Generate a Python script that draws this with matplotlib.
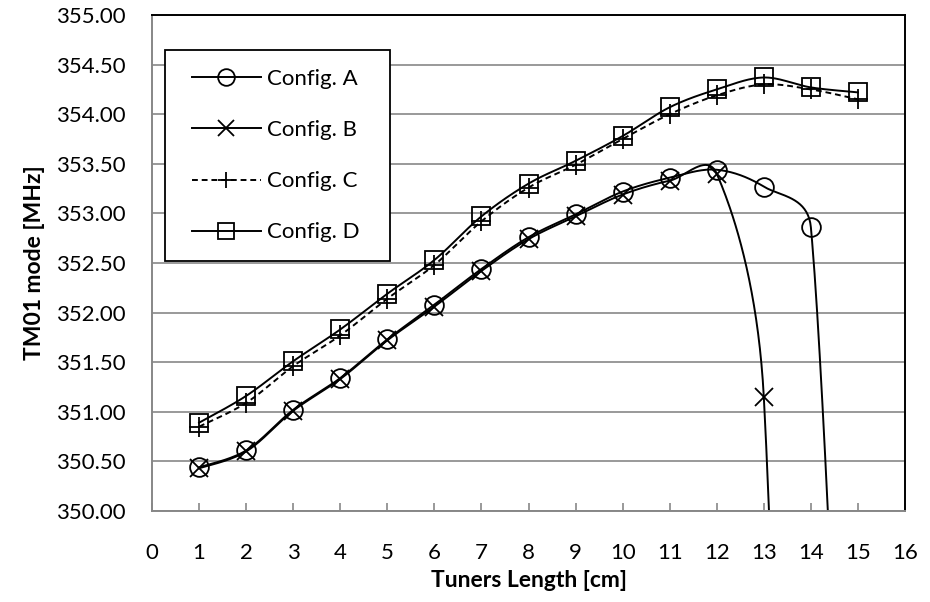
import numpy as np
import matplotlib
matplotlib.use("Agg")
import matplotlib.pyplot as plt
from matplotlib.legend_handler import HandlerLine2D

# tuner length [cm]
length_ad = [1, 2, 3, 4, 5, 6, 7, 8, 9, 10, 11, 12, 13, 14, 15]
length_b = [1, 2, 3, 4, 5, 6, 7, 8, 9, 10, 11, 12, 13, 14]

# TM01 frequency [MHz]; the last points of A and B lie far below the axis
config_a = [350.44, 350.61, 351.02, 351.34, 351.73, 352.08, 352.44, 352.76,
            352.99, 353.22, 353.36, 353.44, 353.27, 352.86, 343.0]
config_b = [350.43, 350.60, 351.01, 351.33, 351.72, 352.06, 352.42, 352.74,
            352.97, 353.19, 353.33, 353.40, 351.15, 335.6]
config_c = [350.85, 351.09, 351.46, 351.77, 352.14, 352.48, 352.92, 353.26,
            353.49, 353.75, 354.00, 354.19, 354.30, 354.25, 354.15]
config_d = [350.89, 351.16, 351.51, 351.83, 352.19, 352.53, 352.97, 353.30,
            353.53, 353.78, 354.07, 354.25, 354.37, 354.27, 354.22]

FONT = "Lato"
N_SEG = 40


def smooth(xs, ys, sx=47.2, sy=99.2, n=N_SEG):
    # Excel-like smoothed line: cubic bezier, tangent = neighbour diff / 6,
    # limited to half the segment length (done in pixel-like units)
    p = np.column_stack([np.asarray(xs, float) * sx, np.asarray(ys, float) * sy])
    out = []
    for i in range(len(p) - 1):
        p0 = p[i - 1] if i > 0 else p[i]
        p1, p2 = p[i], p[i + 1]
        p3 = p[i + 2] if i + 2 < len(p) else p[i + 1]
        half = np.linalg.norm(p2 - p1) / 2
        v1 = (p2 - p0) / 6
        v2 = (p3 - p1) / 6
        if np.linalg.norm(v1) > half:
            v1 = v1 * half / np.linalg.norm(v1)
        if np.linalg.norm(v2) > half:
            v2 = v2 * half / np.linalg.norm(v2)
        c1, c2 = p1 + v1, p2 - v2
        t = np.linspace(0, 1, n + 1)[:-1][:, None]
        seg = ((1 - t) ** 3) * p1 + 3 * t * (1 - t) ** 2 * c1 + 3 * t ** 2 * (1 - t) * c2 + t ** 3 * p2
        out.append(seg)
    out.append(p[-1:])
    out = np.vstack(out)
    return out[:, 0] / sx, out[:, 1] / sy


fig = plt.figure(figsize=(9.3, 6.02), dpi=100)
ax = fig.add_axes([152 / 930, 91 / 602, 753 / 930, 496 / 602])

series = [
    (length_ad, config_a, "o", 13.5, "-", "Config. A"),
    (length_b, config_b, "x", 13, "-", "Config. B"),
    (length_ad, config_c, "+", 15, (0, (3, 2)), "Config. C"),
    (length_ad, config_d, "s", 13, "-", "Config. D"),
]
for xs, ys, mk, ms, ls, lab in series:
    sx, sy = smooth(xs, ys)
    ax.plot(sx, sy, color="black", lw=1.4, linestyle=ls, marker=mk, ms=ms,
            mfc="none", mec="black", mew=1.3,
            markevery=[i * N_SEG for i in range(len(xs))], label=lab)

ax.set_xlim(0, 16)
ax.set_ylim(350, 355)
ax.set_xticks(range(0, 17))
ax.set_yticks(np.arange(350, 355.01, 0.5))
ax.set_yticklabels(["%.2f" % v for v in np.arange(350, 355.01, 0.5)])

ax.grid(axis="y", color="#878787", lw=1.2)
ax.set_axisbelow(True)
ax.tick_params(axis="x", direction="in", length=6, width=1.2, color="#878787",
               pad=23, labelsize=16)
ax.tick_params(axis="y", length=0, pad=19, labelsize=16)
for lab in ax.get_xticklabels() + ax.get_yticklabels():
    lab.set_fontfamily(FONT)

ax.spines["left"].set_color("#878787")
ax.spines["bottom"].set_color("#878787")
ax.spines["top"].set_color("black")
ax.spines["right"].set_color("black")
for s in ax.spines.values():
    s.set_linewidth(1.4)

ax.set_xlabel("Tuners Length [cm]", fontfamily=FONT, fontweight="bold",
              fontsize=16.5, labelpad=5)
ax.set_ylabel("TM01 mode [MHz]", fontfamily=FONT, fontweight="bold",
              fontsize=16.5, labelpad=8)

leg = ax.legend(loc="upper left", bbox_to_anchor=(0.017, 0.929),
                borderaxespad=0, fancybox=False, edgecolor="black",
                framealpha=1, numpoints=1, handlelength=3.47,
                handletextpad=0.3, labelspacing=1.4, borderpad=0.85,
                handler_map={plt.Line2D: HandlerLine2D(xpad=0.36)},
                prop={"family": FONT, "size": 16})
leg.get_frame().set_linewidth(1.3)
for h in leg.legend_handles:
    h.set_markersize(12)
for t in leg.get_texts():
    t.set_text(t.get_text() + "  ")

plt.savefig("out.png", dpi=100)
